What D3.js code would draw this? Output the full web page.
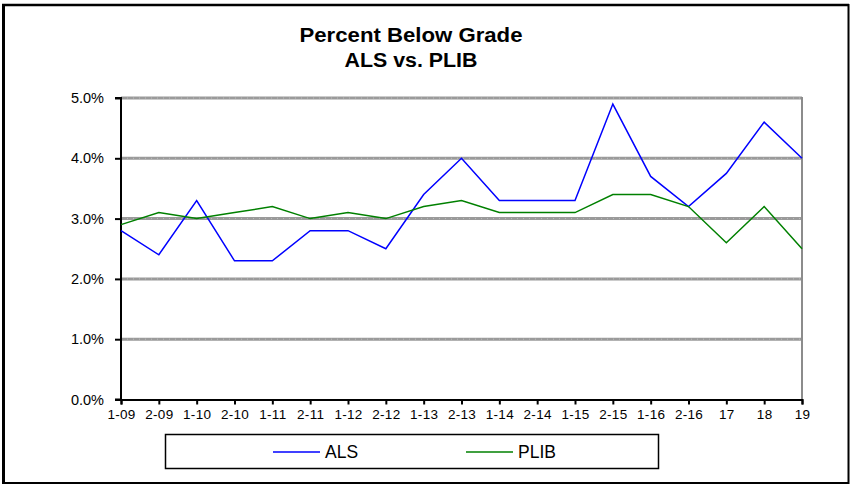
<!DOCTYPE html>
<html><head><meta charset="utf-8">
<script src="https://cdn.jsdelivr.net/npm/d3@7"></script>
<style>body{margin:0;background:#fff}svg{display:block;font-family:"Liberation Sans",Arial,sans-serif}</style>
</head><body><svg id="c" width="851" height="486"></svg>
<script>
const categories = ["1-09","2-09","1-10","2-10","1-11","2-11","1-12","2-12","1-13","2-13","1-14","2-14","1-15","2-15","1-16","2-16","17","18","19"];
const als  = [2.8,2.4,3.3,2.3,2.3,2.8,2.8,2.5,3.4,4.0,3.3,3.3,3.3,4.9,3.7,3.2,3.75,4.6,4.0];
const plib = [2.9,3.1,3.0,3.1,3.2,3.0,3.1,3.0,3.2,3.3,3.1,3.1,3.1,3.4,3.4,3.2,2.6,3.2,2.5];
const yTicks = [0,1,2,3,4,5];
const seriesNames = ["ALS","PLIB"];
const colors = ["#0000ff","#008000"];

const svg = d3.select("#c");
// outer frame
svg.append("rect").attr("x",3.5).attr("y",5).attr("width",845).attr("height",478)
  .attr("fill","#fff").attr("stroke","#000").attr("stroke-width",2);
svg.append("line").attr("x1",3.5).attr("x2",3.5).attr("y1",4).attr("y2",484).attr("stroke","#000").attr("stroke-width",3);
svg.append("line").attr("x1",2).attr("x2",849).attr("y1",5).attr("y2",5).attr("stroke","#000").attr("stroke-width",2.5);

const L=121, R=802, T=98, B=399.5;
const x = d3.scalePoint().domain(categories).range([L,R]);
const y = d3.scaleLinear().domain([0,5]).range([B,T]);

// gridlines
const g = svg.append("g");
yTicks.filter(d=>d>0).forEach(d=>{
  g.append("line").attr("x1",L).attr("x2",R).attr("y1",y(d)).attr("y2",y(d))
   .attr("stroke","#9a9a9a").attr("stroke-width",3);
  g.append("line").attr("x1",L).attr("x2",R).attr("y1",y(d)).attr("y2",y(d))
   .attr("stroke","#bdbdbd").attr("stroke-width",1).attr("stroke-dasharray","1,5");
});
// plot right border
svg.append("line").attr("x1",R).attr("x2",R).attr("y1",T-1).attr("y2",B).attr("stroke","#8c8c8c").attr("stroke-width",2);

// axes
const yAxis = d3.axisLeft(y).tickValues(yTicks).tickSize(6).tickPadding(11).tickFormat(d=>d3.format(".1f")(d)+"%");
const ya = svg.append("g").attr("transform",`translate(${L},0)`).call(yAxis);
const xAxis = d3.axisBottom(x).tickSize(5).tickPadding(5);
const xa = svg.append("g").attr("transform",`translate(0,${B})`).call(xAxis);
[ya,xa].forEach(a=>{
  a.select(".domain").attr("stroke","#000").attr("stroke-width",2);
  a.selectAll(".tick line").attr("stroke","#000").attr("stroke-width",2);
  a.selectAll("text").attr("fill","#000").attr("font-family","Liberation Sans, Arial, sans-serif");
});
ya.selectAll("text").attr("font-size",14.5);
xa.selectAll("text").attr("font-size",13.5).attr("letter-spacing",0.3);
ya.select(".domain").attr("d",`M-6,${B}H0V${T}H-6`);

// lines
const line = d3.line().x((d,i)=>x(categories[i])).y(d=>y(d));
[als,plib].forEach((s,i)=>{
  svg.append("path").datum(s).attr("d",line).attr("fill","none")
    .attr("stroke",colors[i]).attr("stroke-width",1.5);
});

// title
svg.append("text").attr("text-anchor","middle").attr("font-weight","bold").attr("font-size",19.5).attr("fill","#000")
  .attr("x",411).attr("y",42).attr("textLength",223).attr("lengthAdjust","spacingAndGlyphs").text("Percent Below Grade");
svg.append("text").attr("text-anchor","middle").attr("font-weight","bold").attr("font-size",19.5).attr("fill","#000")
  .attr("x",411).attr("y",67).attr("textLength",133).attr("lengthAdjust","spacingAndGlyphs").text("ALS vs. PLIB");

// legend
svg.append("rect").attr("x",165.5).attr("y",434.5).attr("width",493).attr("height",34)
  .attr("fill","#fff").attr("stroke","#000").attr("stroke-width",1.5);
const legX = [273,466];
seriesNames.forEach((n,i)=>{
  svg.append("line").attr("x1",legX[i]).attr("x2",legX[i]+47).attr("y1",452).attr("y2",452)
    .attr("stroke",colors[i]).attr("stroke-width",1.5);
  svg.append("text").attr("x",legX[i]+52).attr("y",458).attr("font-size",17.5).attr("fill","#000").text(n);
});
</script></body></html>
